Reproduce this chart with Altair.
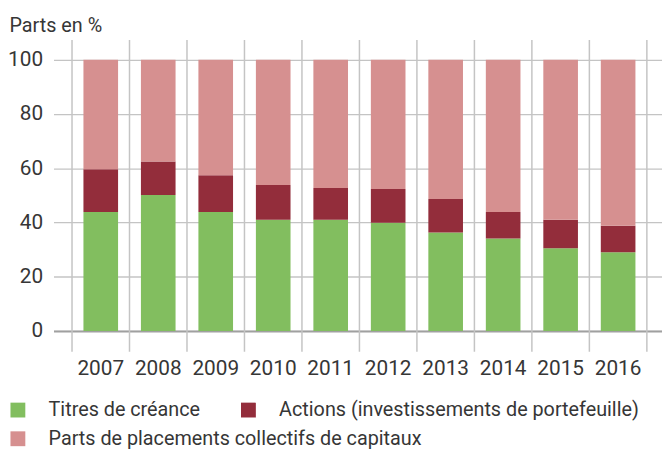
import altair as alt
import pandas as pd

years = ["2007", "2008", "2009", "2010", "2011", "2012", "2013", "2014", "2015", "2016"]
titres = [43.9, 50.1, 43.9, 41.0, 41.0, 39.9, 36.3, 34.1, 30.5, 29.0]
actions = [15.7, 12.4, 13.5, 12.8, 11.7, 12.4, 12.4, 9.8, 10.5, 9.8]
parts = [round(100 - t - a, 1) for t, a in zip(titres, actions)]

series = ["Titres de créance", "Actions (investissements de portefeuille)",
          "Parts de placements collectifs de capitaux"]
colors = ["#82be5f", "#932d3b", "#d69090"]

rows = []
for i, y in enumerate(years):
    lo = 0.0
    for k, (name, vals) in enumerate(zip(series, [titres, actions, parts])):
        hi = lo + vals[i]
        rows.append({"year": y, "series": name, "value": vals[i], "lo": lo, "hi": hi, "order": k})
        lo = hi
df = pd.DataFrame(rows)
df_a = df[df["order"] < 2]
df_b = df[df["order"] == 2]
yr = pd.DataFrame({"year": years})
last = pd.DataFrame({"year": [years[-1]]})

FONT = "Roboto"
W, H = 615, 274
STEP = W / (10 + 2 * 0.2926)
TXT = "#363636"

xscale = alt.Scale(domain=years, paddingInner=0, paddingOuter=0.2926, align=0.55)
yscale = alt.Scale(domain=[0, 100], nice=False)
xenc = alt.X("year:N", scale=xscale,
             axis=alt.Axis(title=None, ticks=False, grid=False, domain=True,
                           domainColor="#a0a0a0", domainWidth=2, labelAngle=0,
                           labelFont=FONT, labelFontSize=21, labelFontWeight=400,
                           labelColor=TXT, labelPadding=27))
yaxis = alt.Axis(values=[0, 20, 40, 60, 80, 100], title="Parts en %",
                 titleAngle=0, titleAlign="left", titleBaseline="alphabetic",
                 titleX=-45, titleY=-29, titleFont=FONT, titleFontSize=20,
                 titleFontWeight=400, titleColor=TXT,
                 domain=False, ticks=False, grid=True, gridColor="#c4c4c4",
                 gridWidth=1.3, labelFont=FONT, labelFontSize=21,
                 labelFontWeight=400, labelColor=TXT, labelPadding=11)

def legend(y):
    return alt.Legend(title=None, orient="none", legendX=-46, legendY=y,
                      direction="horizontal", columnPadding=38,
                      symbolType="square", symbolSize=225,
                      symbolStrokeWidth=0, symbolOpacity=1,
                      labelFont=FONT, labelFontSize=20, labelFontWeight=400,
                      labelColor=TXT, labelLimit=600, labelOffset=21)

vlines = alt.Chart(yr).mark_rule(color="#c4c4c4", strokeWidth=1.5, xOffset=-STEP / 2).encode(
    x=xenc, y=alt.value(-20), y2=alt.value(H + 21))
vlast = alt.Chart(last).mark_rule(color="#c4c4c4", strokeWidth=1.5, xOffset=STEP / 2).encode(
    x=alt.X("year:N", scale=xscale), y=alt.value(-20), y2=alt.value(H + 21))

bars_a = alt.Chart(df_a).mark_bar(width=35).encode(
    x=alt.X("year:N", scale=xscale),
    y=alt.Y("lo:Q", scale=yscale, axis=yaxis),
    y2="hi:Q",
    color=alt.Color("series:N", scale=alt.Scale(domain=series[:2], range=colors[:2]),
                    legend=legend(344)),
)
bars_b = alt.Chart(df_b).mark_bar(width=35).encode(
    x=alt.X("year:N", scale=xscale),
    y=alt.Y("lo:Q", scale=yscale),
    y2="hi:Q",
    color=alt.Color("series:N", scale=alt.Scale(domain=series[2:], range=colors[2:]),
                    legend=legend(373)),
)

chart = alt.layer(vlines, vlast, bars_a, bars_b).resolve_scale(
    color="independent"
).properties(
    width=W, height=H,
    autosize=alt.AutoSizeParams(type="none"),
    padding={"left": 46, "top": 50, "right": 0, "bottom": 118},
).configure_view(stroke=None)

chart.save("out.html", embed_options={"renderer": "svg", "actions": False})
